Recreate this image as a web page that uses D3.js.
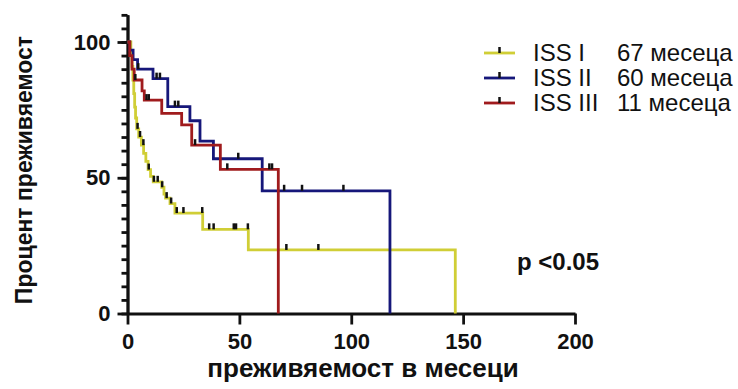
<!DOCTYPE html>
<html>
<head>
<meta charset="utf-8">
<script src="https://cdn.jsdelivr.net/npm/d3@7"></script>
<style>
  html, body { margin: 0; padding: 0; background: #fff; }
  svg { display: block; font-family: "Liberation Sans", Arial, sans-serif; }
</style>
</head>
<body>
<svg id="chart" width="738" height="389"></svg>
<script>
// Kaplan–Meier survival by ISS stage: step times (months) and survival (%) after each step
const issITimes  = [0, 1.5, 2.0, 2.4, 2.8, 3.2, 3.6, 4.1, 5.0, 6.2, 7.2, 8.2, 9.2, 10.3, 11.5, 15.3, 16.3, 17, 19, 21.2, 33.6, 54, 146.5];
const issISurv   = [100, 96, 91, 86, 81, 76, 72, 68, 65, 62, 59, 56, 53, 50.5, 48.5, 46.5, 44, 42.5, 40.5, 37, 31, 23.4, 0];
const issICensor = [4.5, 5.6, 7.1, 9.5, 11.8, 13.5, 15.5, 17.5, 19.5, 22, 25, 33.4, 36.5, 38.5, 47.5, 48.5, 53.8, 71, 85.3];

const issIITimes  = [0, 1, 2.5, 4.5, 11.4, 18, 27.9, 32.4, 38.4, 60.2, 117.3];
const issIISurv   = [100, 97, 93.5, 90, 86.5, 76.2, 71, 63.5, 57, 45.2, 0];
const issIICensor = [4.8, 13, 14.5, 21.2, 22.7, 49.5, 70, 78, 96.5];

const issIIITimes  = [0, 1, 2, 3, 6.5, 7.5, 15.3, 24.2, 28.7, 41.5, 67.4];
const issIIISurv   = [100, 95, 90, 86, 82, 78.6, 73.7, 69.5, 62, 53.1, 0];
const issIIICensor = [3.5, 8.5, 9.5, 30.2, 44.6, 63.4, 64.6];

const seriesNames  = ["ISS I", "ISS II", "ISS III"];
const medianLabels = ["67 месеца", "60 месеца", "11 месеца"];
const seriesColors = ["#d0ce36", "#16177a", "#a01b1d"];

const xTicks = [0, 50, 100, 150, 200];
const yMajorTicks = [0, 50, 100];
const yMinorTicks = d3.range(0, 111, 5);

const xTitle = "преживяемост в месеци";
const yTitle = "Процент преживяемост";
const pText = "p <0.05";

const svg = d3.select("#chart");
const x = d3.scaleLinear().domain([0, 200]).range([127.5, 575]);
const y = d3.scaleLinear().domain([0, 110]).range([313.5, 14.85]);

// axes
const yMinor = d3.axisLeft(y).tickValues(yMinorTicks).tickSize(6).tickSizeOuter(0).tickFormat("");
const yMajor = d3.axisLeft(y).tickValues(yMajorTicks).tickSize(10).tickSizeOuter(0).tickPadding(7);
const xAxis = d3.axisBottom(x).tickValues(xTicks).tickSize(11).tickSizeOuter(0).tickPadding(9);

function styleAxis(g) {
  g.selectAll("path.domain").attr("stroke", "#111").attr("stroke-width", 2.8);
  g.selectAll(".tick line").attr("stroke", "#111").attr("stroke-width", 2.8);
  g.selectAll(".tick text").attr("fill", "#111").attr("font-size", 22).attr("font-weight", "bold")
    .attr("font-family", "Liberation Sans, Arial, sans-serif");
}

svg.append("g").attr("transform", `translate(${x(0)},0)`).call(yMinor).call(styleAxis);
svg.append("g").attr("transform", `translate(${x(0)},0)`).call(yMajor).call(styleAxis);
svg.append("g").attr("transform", `translate(0,${y(0)})`).call(xAxis).call(styleAxis);

// axis titles
svg.append("text")
  .attr("x", 363).attr("y", 377)
  .attr("text-anchor", "middle")
  .attr("font-size", 26).attr("font-weight", "bold").attr("fill", "#111")
  .text(xTitle);

svg.append("text")
  .attr("transform", "translate(32,170) rotate(-90)")
  .attr("text-anchor", "middle")
  .attr("font-size", 23).attr("font-weight", "bold").attr("fill", "#111")
  .text(yTitle);

// survival curves
const stepLine = d3.line().x(d => x(d[0])).y(d => y(d[1])).curve(d3.curveStepAfter);

const series = [
  { times: issITimes, surv: issISurv, censor: issICensor },
  { times: issIITimes, surv: issIISurv, censor: issIICensor },
  { times: issIIITimes, surv: issIIISurv, censor: issIIICensor }
];

function survivalAt(s, t) {
  let v = s.surv[0];
  for (let i = 0; i < s.times.length; i++) {
    if (s.times[i] <= t) v = s.surv[i];
  }
  return v;
}

series.forEach((s, i) => {
  const pts = s.times.map((t, k) => [t, s.surv[k]]);
  svg.append("path")
    .datum(pts)
    .attr("d", stepLine)
    .attr("fill", "none")
    .attr("stroke", seriesColors[i])
    .attr("stroke-width", 2.8)
    .attr("stroke-linejoin", "miter");

  svg.append("g").selectAll("line")
    .data(s.censor)
    .join("line")
    .attr("x1", t => x(t)).attr("x2", t => x(t))
    .attr("y1", t => y(survivalAt(s, t)))
    .attr("y2", t => y(survivalAt(s, t)) - 6)
    .attr("stroke", "#111")
    .attr("stroke-width", 2.5);
});

// legend
const legendY = [53, 78, 103];
const legend = svg.append("g");
seriesNames.forEach((name, i) => {
  const ly = legendY[i];
  legend.append("line")
    .attr("x1", 484).attr("x2", 515).attr("y1", ly).attr("y2", ly)
    .attr("stroke", seriesColors[i]).attr("stroke-width", 2.8);
  legend.append("line")
    .attr("x1", 499.5).attr("x2", 499.5).attr("y1", ly).attr("y2", ly - 6)
    .attr("stroke", "#111").attr("stroke-width", 2.5);
  legend.append("text")
    .attr("x", 533).attr("y", ly).attr("dy", "0.35em")
    .attr("font-size", 24).attr("fill", "#111")
    .text(name);
  legend.append("text")
    .attr("x", 617).attr("y", ly).attr("dy", "0.35em")
    .attr("font-size", 24).attr("fill", "#111")
    .text(medianLabels[i]);
});

// significance annotation
svg.append("text")
  .attr("x", 517).attr("y", 262).attr("dy", "0.35em")
  .attr("font-size", 24).attr("font-weight", "bold").attr("fill", "#111")
  .text(pText);
</script>
</body>
</html>
